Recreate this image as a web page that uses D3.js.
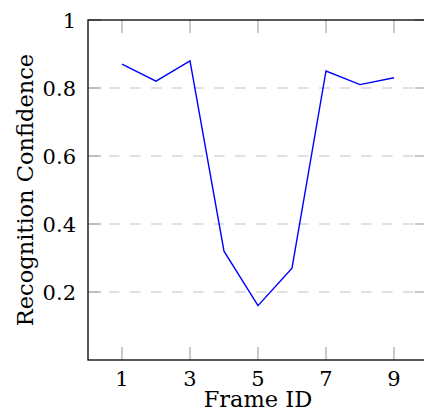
<!DOCTYPE html>
<html>
<head>
<meta charset="utf-8">
<script src="https://cdn.jsdelivr.net/npm/d3@7"></script>
<style>
  html, body { margin: 0; padding: 0; background: #fff; overflow: hidden; }
  svg { display: block; }
  text { font-family: "DejaVu Serif", serif; fill: #000; }
</style>
</head>
<body>
<svg id="chart" width="424" height="412"></svg>
<script>
// ---- data ----
const frameIds = [1, 2, 3, 4, 5, 6, 7, 8, 9];
const confidence = [0.87, 0.82, 0.88, 0.32, 0.16, 0.27, 0.85, 0.81, 0.83];
const xTickValues = [1, 3, 5, 7, 9];
const yTickValues = [0.2, 0.4, 0.6, 0.8, 1];
const yTickLabels = ["0.2", "0.4", "0.6", "0.8", "1"];
const xTitle = "Frame ID";
const yTitle = "Recognition Confidence";

// ---- layout ----
const svg = d3.select("#chart");
const mLeft = 88, mRight = 428, mTop = 20, mBottom = 360;
const x = d3.scaleLinear().domain([0, 10]).range([mLeft, mRight]);
const y = d3.scaleLinear().domain([0, 1]).range([mBottom, mTop]);
const fsTick = 21;
const fsTitle = 22.5;
const tickLen = 13;

// grid
svg.append("g").selectAll("line").data(yTickValues.filter(v => v < 1)).join("line")
  .attr("x1", mLeft).attr("x2", mRight)
  .attr("y1", d => y(d)).attr("y2", d => y(d))
  .attr("stroke", "#c4c4c4").attr("stroke-width", 1.2)
  .attr("stroke-dasharray", "10.5,10.5");

// ticks (gray, inside, all four sides)
const tickG = svg.append("g").attr("stroke", "#a6a6a6").attr("stroke-width", 1.2);
xTickValues.forEach(v => {
  tickG.append("line").attr("x1", x(v)).attr("x2", x(v)).attr("y1", mBottom).attr("y2", mBottom - tickLen);
  tickG.append("line").attr("x1", x(v)).attr("x2", x(v)).attr("y1", mTop).attr("y2", mTop + tickLen);
});
yTickValues.forEach(v => {
  tickG.append("line").attr("x1", mLeft).attr("x2", mLeft + tickLen).attr("y1", y(v)).attr("y2", y(v));
  tickG.append("line").attr("x1", mRight).attr("x2", mRight - tickLen).attr("y1", y(v)).attr("y2", y(v));
});

// axis frame
svg.append("rect")
  .attr("x", mLeft).attr("y", mTop)
  .attr("width", mRight - mLeft).attr("height", mBottom - mTop)
  .attr("fill", "none").attr("stroke", "#000").attr("stroke-width", 1.3);

// line
const line = d3.line().x((d, i) => x(frameIds[i])).y(d => y(d));
svg.append("path").datum(confidence)
  .attr("d", line)
  .attr("fill", "none").attr("stroke", "#0000ff").attr("stroke-width", 1.4)
  .attr("stroke-linejoin", "miter");

// tick labels
svg.append("g").selectAll("text").data(xTickValues).join("text")
  .attr("x", d => x(d)).attr("y", 386)
  .attr("text-anchor", "middle").attr("font-size", fsTick)
  .text(d => d);
svg.append("g").selectAll("text").data(yTickValues).join("text")
  .attr("x", 76).attr("y", d => y(d) + 7.5)
  .attr("text-anchor", "end").attr("font-size", fsTick)
  .text((d, i) => yTickLabels[i]);

// titles
svg.append("text")
  .attr("x", (mLeft + mRight) / 2).attr("y", 406.5)
  .attr("text-anchor", "middle").attr("font-size", fsTitle)
  .text(xTitle);
svg.append("text")
  .attr("transform", `translate(33, ${(mTop + mBottom) / 2}) rotate(-90)`)
  .attr("text-anchor", "middle").attr("font-size", fsTitle)
  .text(yTitle);
</script>
</body>
</html>
